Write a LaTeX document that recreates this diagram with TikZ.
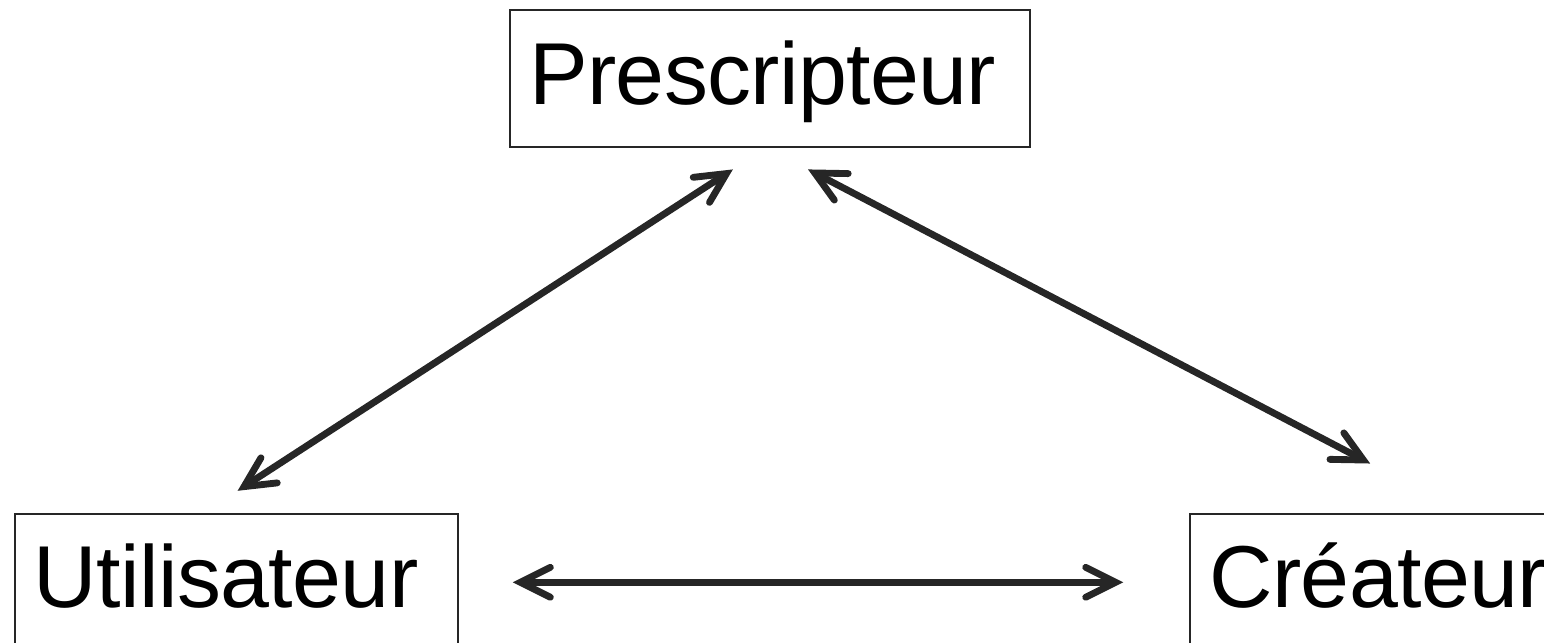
\documentclass[tikz,border=0pt]{standalone}
\usepackage{fontspec}
\setmainfont[LetterSpace=-0.7]{Liberation Sans}
\usetikzlibrary{arrows.meta}
\definecolor{ink}{HTML}{262626}
\tikzset{
  rolebox/.style={draw=ink, line width=0.6pt, inner xsep=0.19cm, inner ysep=0pt,
    minimum height=1.37cm, text height=0.63cm, text depth=0.12cm, align=left,
    anchor=north west, font=\fontsize{25}{30}\selectfont},
  barb/.tip={Straight Barb[length=8.5pt,width=8.5pt,line cap=round,line join=miter]},
  link/.style={draw=ink, line width=1.95pt, line cap=round, barb-barb}
}
\begin{document}
\begin{tikzpicture}[x=0.01cm,y=-0.01cm]
  \useasboundingbox (0,0) rectangle (1544,643);
  \clip (0,0) rectangle (1544,643);
  % the three roles
  \node[rolebox, text width=4.82cm] (p) at (509,9) {Prescripteur};
  \node[rolebox, text width=4.054cm] (u) at (13.7,512.7) {Utilisateur};
  \node[rolebox, text width=3.46cm] (c) at (1189.3,512.7) {Créateur};
  % two-way links between the roles
  \draw[link, shorten <=0.402cm, shorten >=0.39cm]
    ([xshift=-0.327cm]u.north) -- ([xshift=-0.046cm]p.south);
  \draw[link, shorten <=0.458cm, shorten >=1.06cm]
    ([xshift=-0.028cm]p.south) -- ([xshift=2.747cm]c.north west);
  \draw[link, shorten <=0.533cm, shorten >=0.66cm] (u.east) -- (c.west);
\end{tikzpicture}
\end{document}
